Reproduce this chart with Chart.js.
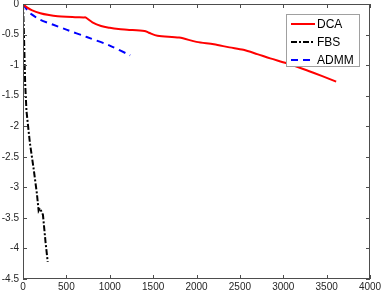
<!DOCTYPE html>
<html>
<head>
<meta charset="utf-8">
<script src="https://cdn.jsdelivr.net/npm/chart.js@4/dist/chart.umd.min.js"></script>
<style>
  html, body { margin: 0; padding: 0; background: #fff; }
  canvas { display: block; }
</style>
</head>
<body>
<canvas id="chart" width="382" height="295"></canvas>
<script>
// values
const dcaX = [0, 50, 100, 200, 300, 400, 500, 600, 700, 720, 800, 900, 1000, 1100, 1200, 1400, 1450, 1550, 1800, 2000, 2200, 2380, 2540, 2700, 2850, 3040, 3300, 3450, 3610];
const dcaY = [0, -0.06, -0.1, -0.15, -0.18, -0.2, -0.21, -0.215, -0.22, -0.22, -0.3, -0.36, -0.39, -0.41, -0.42, -0.44, -0.47, -0.52, -0.55, -0.62, -0.66, -0.71, -0.75, -0.82, -0.89, -0.97, -1.1, -1.18, -1.27];

const fbsX = [0, 10, 25, 40, 80, 120, 160, 180, 195, 230, 260, 285];
const fbsY = [0, -0.45, -1.3, -1.75, -2.28, -2.67, -3.1, -3.38, -3.34, -3.45, -3.9, -4.22];

const admmX = [0, 50, 100, 200, 350, 500, 735, 1000, 1235];
const admmY = [0, -0.1, -0.17, -0.26, -0.34, -0.42, -0.54, -0.68, -0.84];

const xTicks = [0, 500, 1000, 1500, 2000, 2500, 3000, 3500, 4000];
const yTicks = [0, -0.5, -1, -1.5, -2, -2.5, -3, -3.5, -4, -4.5];

const AXIS_COLOR = '#4d4d4d';
const TEXT_COLOR = '#262626';
const FONT = 'Liberation Sans, Arial, Helvetica, sans-serif';

function pts(xs, ys) {
  return xs.map((x, i) => ({ x, y: ys[i] }));
}

// MATLAB-style box with inward ticks on all four sides, plus boxed legend
const boxPlugin = {
  id: 'matlabBox',
  afterDatasetsDraw(chart) {
    const { ctx, chartArea: a, scales } = chart;
    ctx.save();
    ctx.strokeStyle = AXIS_COLOR;
    ctx.lineWidth = 1;
    ctx.strokeRect(a.left + 0.5, a.top + 0.5, a.right - a.left - 1, a.bottom - a.top - 1);
    const len = 4;
    ctx.beginPath();
    xTicks.forEach((v) => {
      const px = Math.round(scales.x.getPixelForValue(v)) + 0.5;
      ctx.moveTo(px, a.bottom); ctx.lineTo(px, a.bottom - len);
      ctx.moveTo(px, a.top); ctx.lineTo(px, a.top + len);
    });
    yTicks.forEach((v) => {
      const py = Math.round(scales.y.getPixelForValue(v)) + 0.5;
      ctx.moveTo(a.left, py); ctx.lineTo(a.left + len, py);
      ctx.moveTo(a.right, py); ctx.lineTo(a.right - len, py);
    });
    ctx.stroke();

    // legend
    const lx = 286.5, ly = 14.5, lw = 73, lh = 52;
    ctx.fillStyle = '#fff';
    ctx.fillRect(lx, ly, lw, lh);
    ctx.strokeStyle = '#a0a0a0';
    ctx.strokeRect(lx, ly, lw, lh);
    ctx.font = '12px ' + FONT;
    ctx.textBaseline = 'middle';
    chart.data.datasets.forEach((ds, i) => {
      const y = 24 + i * 18;
      ctx.strokeStyle = ds.borderColor;
      ctx.lineWidth = 2;
      ctx.setLineDash(ds.borderDash || []);
      ctx.beginPath();
      ctx.moveTo(291, y); ctx.lineTo(315, y);
      ctx.stroke();
      ctx.setLineDash([]);
      ctx.fillStyle = '#000';
      ctx.fillText(ds.label, 317, y + 0.5);
    });
    ctx.restore();
  },
};

new Chart(document.getElementById('chart'), {
  type: 'line',
  data: {
    datasets: [
      { label: 'DCA', data: pts(dcaX, dcaY), borderColor: '#ff0000', borderWidth: 2, pointRadius: 0, tension: 0.3, fill: false },
      { label: 'FBS', data: pts(fbsX, fbsY), borderColor: '#000000', borderWidth: 2, borderDash: [6, 2, 2, 2], pointRadius: 0, tension: 0, fill: false },
      { label: 'ADMM', data: pts(admmX, admmY), borderColor: '#0000ff', borderWidth: 2, borderDash: [7, 5], pointRadius: 0, tension: 0.3, fill: false },
    ],
  },
  options: {
    responsive: false,
    animation: false,
    devicePixelRatio: 1,
    layout: { padding: { left: 0, top: 4, right: 12, bottom: 0 } },
    plugins: { legend: { display: false }, tooltip: { enabled: false } },
    scales: {
      x: {
        type: 'linear', min: 0, max: 4000,
        afterBuildTicks: (s) => { s.ticks = xTicks.map((v) => ({ value: v })); },
        afterFit: (s) => { s.height = 16; s.paddingLeft = 0; s.paddingRight = 0; },
        grid: { display: false, drawTicks: false },
        border: { display: false },
        ticks: { color: TEXT_COLOR, font: { family: FONT, size: 10 }, padding: 2, maxRotation: 0, autoSkip: false, callback: (v) => String(v) },
      },
      y: {
        type: 'linear', min: -4.5, max: 0,
        afterBuildTicks: (s) => { s.ticks = yTicks.map((v) => ({ value: v })); },
        afterFit: (s) => { s.width = 23; s.paddingTop = 0; s.paddingBottom = 0; },
        grid: { display: false, drawTicks: false },
        border: { display: false },
        ticks: { color: TEXT_COLOR, font: { family: FONT, size: 10 }, padding: 4, autoSkip: false, callback: (v) => String(v) },
      },
    },
  },
  plugins: [boxPlugin],
});
</script>
</body>
</html>
